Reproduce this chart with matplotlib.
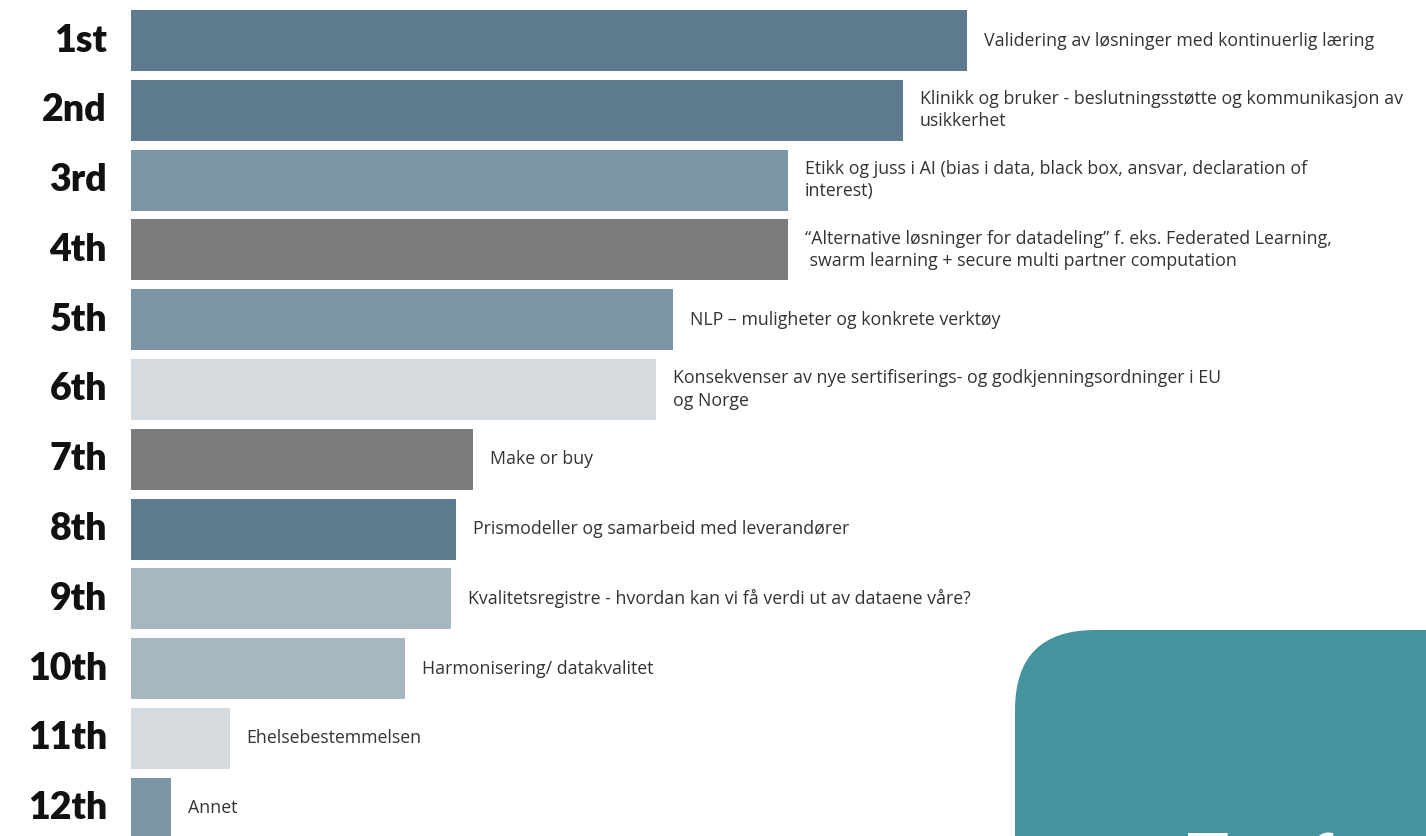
import matplotlib.pyplot as plt
from matplotlib.patches import FancyBboxPatch
from matplotlib.transforms import blended_transform_factory

ranks = ["1st", "2nd", "3rd", "4th", "5th", "6th", "7th", "8th", "9th", "10th", "11th", "12th"]
topics = [
    "Validering av løsninger med kontinuerlig læring",
    "Klinikk og bruker - beslutningsstøtte og kommunikasjon av\nusikkerhet",
    "Etikk og juss i AI (bias i data, black box, ansvar, declaration of\ninterest)",
    "\u201cAlternative løsninger for datadeling\u201d f. eks. Federated Learning,\n swarm learning + secure multi partner computation",
    "NLP \u2013 muligheter og konkrete verktøy",
    "Konsekvenser av nye sertifiserings- og godkjenningsordninger i EU\nog Norge",
    "Make or buy",
    "Prismodeller og samarbeid med leverandører",
    "Kvalitetsregistre - hvordan kan vi få verdi ut av dataene våre?",
    "Harmonisering/ datakvalitet",
    "Ehelsebestemmelsen",
    "Annet",
]
scores = [836, 772, 657, 657, 542, 525, 342, 325, 320, 274, 99, 40]
bar_colors = ["#5d7a8e", "#5d7a8e", "#7b95a5", "#7c7c7c", "#7b95a5", "#d5dadf",
              "#7c7c7c", "#5d7a8e", "#a6b7c0", "#a6b7c0", "#d5dadf", "#7b95a5"]

W, H = 1426, 836
fig = plt.figure(figsize=(W / 100, H / 100), dpi=100)
fig.patch.set_facecolor("white")

left = 131
ax = fig.add_axes([left / W, 0, (W - left) / W, 1])
ax.set_xlim(0, W - left)
pitch = 69.8
ax.set_ylim((H - 40.5) / pitch, -40.5 / pitch)
ax.axis("off")

y = range(len(ranks))
ax.barh(list(y), scores, height=61 / pitch, color=bar_colors, edgecolor="none")

for i, (v, t) in enumerate(zip(scores, topics)):
    ax.annotate(t, xy=(v, i), xytext=(12, 0), textcoords="offset points",
                ha="left", va="center", fontsize=12.8, family="Open Sans",
                color="#333333", linespacing=1.3)

trans = blended_transform_factory(fig.transFigure, ax.transData)
for i, r in enumerate(ranks):
    ax.text(107 / W, i, r, transform=trans, ha="right", va="center",
            fontsize=27, fontweight="heavy", family="Lato", color="#111111",
            clip_on=False)

# teal panel in the lower right corner
panel = FancyBboxPatch((1015, -200), 600, 406, boxstyle="round,pad=0,rounding_size=80",
                       transform=None, facecolor="#44949f", edgecolor="none", zorder=5)
fig.patches.append(panel)
fig.text(1187 / W, -47 / H, "Tre fra", color="white", fontsize=50,
         fontweight="bold", family="Lato", ha="left", va="baseline", zorder=6)

fig.savefig("out.png", dpi=100, facecolor="white")
